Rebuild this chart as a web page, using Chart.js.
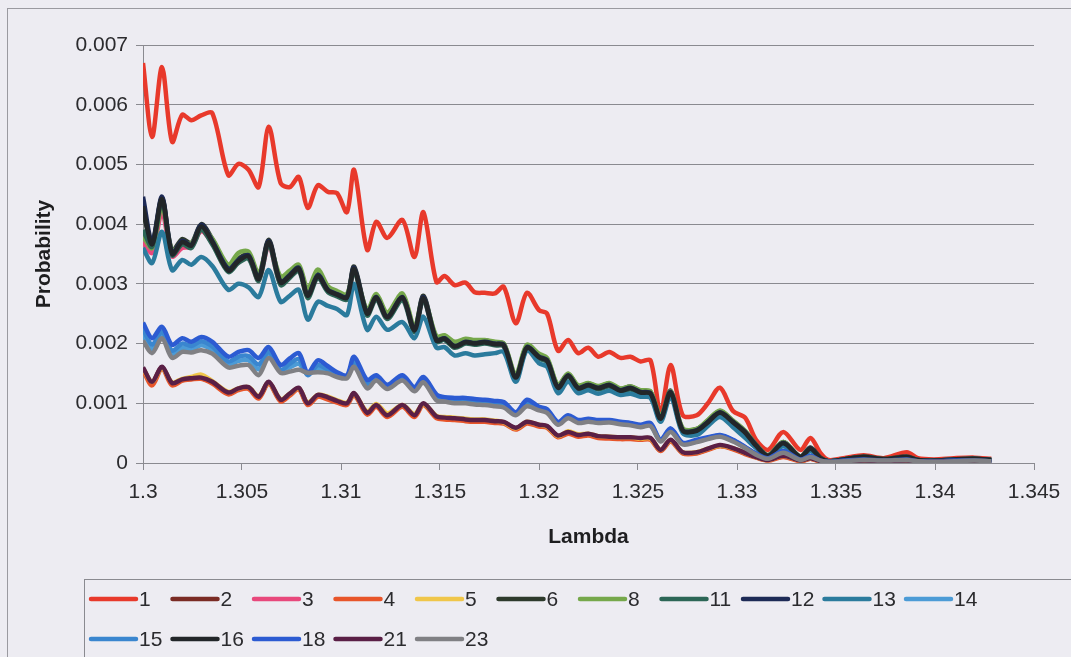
<!DOCTYPE html>
<html>
<head>
<meta charset="utf-8">
<script src="https://cdn.jsdelivr.net/npm/chart.js@4/dist/chart.umd.min.js"></script>
<style>
  html, body { margin: 0; padding: 0; background: #edecf2; }
  canvas { display: block; }
</style>
</head>
<body>
<canvas id="chart" width="1071" height="657"></canvas>
<script>
// Wavelength samples shared by every series
const lambda = [1.3, 1.30046, 1.30096, 1.30147, 1.30198, 1.30244, 1.30294, 1.3035, 1.30431, 1.30482,
  1.30533, 1.30584, 1.30635, 1.30695, 1.30741, 1.30787, 1.30832, 1.30883, 1.30934, 1.3098,
  1.3103, 1.31066, 1.31132, 1.31178, 1.31234, 1.3131, 1.31371, 1.31416, 1.31482, 1.31523,
  1.31574, 1.31629, 1.31675, 1.31726, 1.31777, 1.31822, 1.31883, 1.31939, 1.32, 1.32041,
  1.32096, 1.32147, 1.32198, 1.32249, 1.32299, 1.32355, 1.32411, 1.32462, 1.32513, 1.32563,
  1.32614, 1.32665, 1.32726, 1.32797, 1.32853, 1.32914, 1.3298, 1.33041, 1.33096, 1.33157,
  1.33234, 1.3332, 1.33371, 1.33421, 1.33462, 1.33538, 1.3364, 1.33741, 1.33858, 1.33914,
  1.33995, 1.34096, 1.34198, 1.34284];

const seriesNames = ['1', '2', '3', '4', '5', '6', '8', '11', '12', '13', '14', '15', '16', '18', '21', '23'];
const seriesColors = ['#e8392b', '#7a2b24', '#e8487c', '#e8552a', '#f0c64a', '#2e3a2c', '#76a84b', '#2c6656',
  '#1d2a56', '#2b7b9d', '#4c9bd6', '#3a86cf', '#222629', '#2c5bd2', '#5a1f46', '#808084'];

const p1 = [0.0067, 0.00546, 0.00663, 0.00538, 0.00583, 0.00574, 0.00582, 0.00586, 0.00482, 0.00501,
  0.00491, 0.00462, 0.00563, 0.00469, 0.00462, 0.00479, 0.00427, 0.00465, 0.00454, 0.00452,
  0.0042, 0.00491, 0.00357, 0.00404, 0.00377, 0.00407, 0.00345, 0.0042, 0.00303, 0.00313,
  0.00298, 0.00302, 0.00286, 0.00285, 0.00284, 0.00295, 0.00234, 0.00285, 0.00256, 0.0025,
  0.00188, 0.00206, 0.00184, 0.00193, 0.00178, 0.00186, 0.00176, 0.00178, 0.0017, 0.00172,
  0.00084, 0.00164, 0.0008, 0.0008, 0.001, 0.00126, 0.00087, 0.00076, 0.00039, 0.00022,
  0.00052, 0.00022, 0.00042, 0.00017, 0.00005, 0.00008, 0.00013, 0.00008, 0.00018, 0.00008,
  0.00006, 0.00008, 0.00009, 0.00007];

const p2 = [0.00158, 0.00135, 0.0016, 0.00133, 0.00139, 0.00141, 0.00142, 0.00135, 0.00117, 0.00124,
  0.00126, 0.0011, 0.00135, 0.00105, 0.00115, 0.00125, 0.00099, 0.00113, 0.00109, 0.00103,
  0.00099, 0.00116, 0.00083, 0.00096, 0.00079, 0.00096, 0.00079, 0.00099, 0.00077, 0.00075,
  0.00074, 0.00072, 0.00071, 0.00071, 0.00069, 0.00068, 0.00058, 0.00068, 0.00063, 0.00061,
  0.00045, 0.00051, 0.00046, 0.00048, 0.00044, 0.00043, 0.00042, 0.00042, 0.00041, 0.00041,
  0.00021, 0.00038, 0.00017, 0.00017, 0.00023, 0.00029, 0.00024, 0.00016, 0.0001, 0.00005,
  0.00011, 0.00004, 0.00007, 0.00003, 0.00001, 0.00002, 0.00004, 0.00003, 0.00004, 0.00002,
  0.00002, 0.00002, 0.00003, 0.00002];

const p3 = [0.0037, 0.00352, 0.0042, 0.00346, 0.0036, 0.00362, 0.00388, 0.00368, 0.00322, 0.00336,
  0.00344, 0.00306, 0.00364, 0.003, 0.00312, 0.00324, 0.00279, 0.00312, 0.00288, 0.00281,
  0.00276, 0.00322, 0.0025, 0.00276, 0.00244, 0.00276, 0.00222, 0.00274, 0.00205, 0.00208,
  0.00196, 0.00203, 0.002, 0.00202, 0.00199, 0.00197, 0.00144, 0.00193, 0.00177, 0.00171,
  0.00126, 0.00146, 0.00125, 0.0013, 0.00125, 0.0013, 0.00121, 0.00125, 0.00118, 0.00116,
  0.00074, 0.00118, 0.00054, 0.00054, 0.00068, 0.00084, 0.00068, 0.00051, 0.0003, 0.00012,
  0.00033, 0.0001, 0.00024, 0.00008, 0.00003, 0.00006, 0.0001, 0.00006, 0.0001, 0.00005,
  0.00004, 0.00006, 0.00007, 0.00005];

const p4 = [0.00155, 0.0013, 0.00158, 0.0013, 0.00138, 0.0014, 0.00141, 0.00133, 0.00115, 0.00122,
  0.00124, 0.00108, 0.00133, 0.00103, 0.00113, 0.00123, 0.00097, 0.00111, 0.00106, 0.00101,
  0.00097, 0.00114, 0.00081, 0.00094, 0.00077, 0.00094, 0.00077, 0.00097, 0.00075, 0.00073,
  0.00072, 0.0007, 0.00069, 0.00069, 0.00067, 0.00066, 0.00056, 0.00066, 0.00061, 0.00059,
  0.00043, 0.00049, 0.00044, 0.00046, 0.00042, 0.00041, 0.0004, 0.0004, 0.00039, 0.00039,
  0.0002, 0.00036, 0.00016, 0.00016, 0.00022, 0.00028, 0.00023, 0.00015, 0.00009, 0.00004,
  0.0001, 0.00003, 0.00007, 0.00002, 0.00001, 0.00002, 0.00003, 0.00002, 0.00003, 0.00002,
  0.00001, 0.00002, 0.00002, 0.00002];

const p5 = [0.00158, 0.00136, 0.00159, 0.00135, 0.00141, 0.00144, 0.00148, 0.00137, 0.00119, 0.00125,
  0.00127, 0.00112, 0.00135, 0.00107, 0.00116, 0.00125, 0.00101, 0.00114, 0.00111, 0.00105,
  0.00101, 0.00116, 0.00086, 0.00099, 0.00083, 0.00097, 0.00082, 0.00099, 0.00079, 0.00077,
  0.00076, 0.00074, 0.00073, 0.00073, 0.00071, 0.00068, 0.00058, 0.00069, 0.00064, 0.00061,
  0.00045, 0.00053, 0.00048, 0.00049, 0.00045, 0.00044, 0.00043, 0.00043, 0.00041, 0.00041,
  0.00022, 0.00038, 0.00018, 0.00018, 0.00024, 0.00029, 0.00025, 0.00017, 0.0001, 0.00005,
  0.00012, 0.00004, 0.00008, 0.00003, 0.00001, 0.00002, 0.00004, 0.00003, 0.00004, 0.00002,
  0.00002, 0.00002, 0.00003, 0.00002];

const p6 = [0.0042, 0.00368, 0.00444, 0.00355, 0.00375, 0.00368, 0.004, 0.00375, 0.00327, 0.00342,
  0.0035, 0.00312, 0.00374, 0.00305, 0.00317, 0.00329, 0.00283, 0.00317, 0.00292, 0.00285,
  0.0028, 0.00329, 0.00253, 0.0028, 0.00247, 0.0028, 0.00225, 0.0028, 0.00208, 0.00211,
  0.00198, 0.00205, 0.00203, 0.00205, 0.00202, 0.002, 0.00146, 0.00196, 0.0018, 0.00174,
  0.00129, 0.00149, 0.00128, 0.00133, 0.00128, 0.00133, 0.00124, 0.00128, 0.00121, 0.00119,
  0.00077, 0.00121, 0.00057, 0.00057, 0.00071, 0.00087, 0.0007, 0.00053, 0.00031, 0.00013,
  0.00035, 0.00011, 0.00026, 0.00009, 0.00003, 0.00006, 0.00011, 0.00007, 0.00011, 0.00005,
  0.00004, 0.00006, 0.00007, 0.00005];

const p8 = [0.0038, 0.0036, 0.0043, 0.00356, 0.00368, 0.00368, 0.00393, 0.00376, 0.00332, 0.00352,
  0.00354, 0.00318, 0.00366, 0.00312, 0.00322, 0.00332, 0.00292, 0.00324, 0.00296, 0.00288,
  0.00283, 0.00322, 0.00256, 0.00283, 0.00252, 0.00284, 0.00228, 0.00276, 0.00212, 0.00214,
  0.00203, 0.00208, 0.00206, 0.00206, 0.00203, 0.002, 0.00149, 0.00198, 0.00183, 0.00176,
  0.00131, 0.0015, 0.0013, 0.00134, 0.00129, 0.00134, 0.00125, 0.00128, 0.00122, 0.0012,
  0.00078, 0.0012, 0.00058, 0.00057, 0.00072, 0.00088, 0.00071, 0.00054, 0.00031, 0.00013,
  0.00035, 0.00011, 0.00025, 0.00008, 0.00003, 0.00006, 0.0001, 0.00006, 0.0001, 0.00005,
  0.00004, 0.00006, 0.00007, 0.00005];

const p11 = [0.0039, 0.00362, 0.00438, 0.00348, 0.00366, 0.0036, 0.0039, 0.00366, 0.0032, 0.00335,
  0.00342, 0.00305, 0.00366, 0.00298, 0.0031, 0.00322, 0.00276, 0.0031, 0.00286, 0.00279,
  0.00274, 0.00322, 0.00247, 0.00274, 0.00241, 0.00273, 0.00219, 0.00273, 0.00203, 0.00206,
  0.00193, 0.002, 0.00198, 0.002, 0.00197, 0.00195, 0.00141, 0.00191, 0.00175, 0.00169,
  0.00124, 0.00144, 0.00123, 0.00128, 0.00123, 0.00128, 0.00119, 0.00123, 0.00116, 0.00114,
  0.00072, 0.00116, 0.00053, 0.00053, 0.00067, 0.00083, 0.00067, 0.0005, 0.00029, 0.00011,
  0.00032, 0.0001, 0.00023, 0.00007, 0.00003, 0.00005, 0.00009, 0.00006, 0.00009, 0.00004,
  0.00004, 0.00005, 0.00006, 0.00005];

const p12 = [0.00446, 0.0037, 0.00446, 0.00352, 0.00372, 0.00365, 0.00399, 0.00372, 0.00325, 0.0034,
  0.00348, 0.0031, 0.00372, 0.00303, 0.00315, 0.00327, 0.00281, 0.00315, 0.0029, 0.00283,
  0.00278, 0.00327, 0.00251, 0.00278, 0.00245, 0.00278, 0.00223, 0.00278, 0.00206, 0.00209,
  0.00196, 0.00203, 0.00201, 0.00203, 0.002, 0.00198, 0.00144, 0.00194, 0.00178, 0.00172,
  0.00127, 0.00147, 0.00126, 0.00131, 0.00126, 0.00131, 0.00122, 0.00126, 0.00119, 0.00117,
  0.00075, 0.00119, 0.00055, 0.00055, 0.00069, 0.00085, 0.00069, 0.00052, 0.0003, 0.00012,
  0.00034, 0.0001, 0.00025, 0.00008, 0.00003, 0.00006, 0.0001, 0.00006, 0.0001, 0.00005,
  0.00004, 0.00006, 0.00007, 0.00005];

const p13 = [0.0036, 0.00335, 0.00387, 0.00323, 0.0034, 0.00332, 0.00345, 0.0033, 0.0029, 0.003,
  0.00294, 0.00278, 0.00323, 0.0027, 0.0028, 0.0029, 0.0024, 0.0027, 0.00263, 0.00258,
  0.00248, 0.003, 0.00223, 0.00245, 0.00223, 0.00236, 0.00209, 0.00245, 0.00193, 0.00194,
  0.0018, 0.00184, 0.0018, 0.00182, 0.00184, 0.00186, 0.00136, 0.00189, 0.00167, 0.00161,
  0.00117, 0.00136, 0.00117, 0.00122, 0.00116, 0.00121, 0.00114, 0.00116, 0.00111, 0.00109,
  0.00069, 0.00111, 0.0005, 0.00047, 0.00062, 0.00077, 0.0006, 0.00042, 0.00025, 0.0001,
  0.00028, 0.00008, 0.0002, 0.00006, 0.00003, 0.00005, 0.00008, 0.00005, 0.00008, 0.00004,
  0.00004, 0.00005, 0.00006, 0.00004];

const p14 = [0.00215, 0.0019, 0.00214, 0.00182, 0.00193, 0.0019, 0.00197, 0.00189, 0.00165, 0.00171,
  0.00172, 0.00157, 0.0018, 0.00155, 0.0016, 0.00166, 0.00149, 0.00158, 0.00153, 0.00146,
  0.00143, 0.00166, 0.00129, 0.0014, 0.00126, 0.0014, 0.00122, 0.00137, 0.00108, 0.00105,
  0.00102, 0.00102, 0.001, 0.00099, 0.00097, 0.00095, 0.00082, 0.00098, 0.0009, 0.00086,
  0.00066, 0.00077, 0.00069, 0.0007, 0.00068, 0.00069, 0.00066, 0.00064, 0.00061, 0.00063,
  0.00037, 0.00054, 0.00032, 0.00036, 0.00041, 0.00045, 0.00037, 0.00026, 0.00015, 0.00007,
  0.00018, 0.00005, 0.0001, 0.00004, 0.00002, 0.00003, 0.00005, 0.00004, 0.00005, 0.00003,
  0.00002, 0.00003, 0.00004, 0.00003];

const p15 = [0.00225, 0.00198, 0.0022, 0.00188, 0.002, 0.00196, 0.00204, 0.00195, 0.0017, 0.00178,
  0.00179, 0.00165, 0.00186, 0.00156, 0.00166, 0.00174, 0.00147, 0.00164, 0.00156, 0.00148,
  0.00144, 0.0017, 0.00133, 0.00142, 0.00127, 0.00143, 0.00124, 0.0014, 0.00111, 0.00107,
  0.00105, 0.00105, 0.00103, 0.00102, 0.001, 0.00098, 0.00083, 0.00101, 0.00091, 0.00087,
  0.00067, 0.00078, 0.0007, 0.00072, 0.0007, 0.0007, 0.00067, 0.00065, 0.00062, 0.00065,
  0.00038, 0.00056, 0.00033, 0.00037, 0.00042, 0.00046, 0.00038, 0.00026, 0.00015, 0.00008,
  0.00019, 0.00006, 0.00011, 0.00004, 0.00002, 0.00004, 0.00006, 0.00004, 0.00006, 0.00003,
  0.00003, 0.00004, 0.00004, 0.00003];

const p16 = [0.0043, 0.00366, 0.00442, 0.0035, 0.0037, 0.00364, 0.00396, 0.0037, 0.00322, 0.00338,
  0.00346, 0.00308, 0.0037, 0.00302, 0.00313, 0.00325, 0.0028, 0.00313, 0.00289, 0.00282,
  0.00277, 0.00325, 0.0025, 0.00277, 0.00244, 0.00277, 0.00222, 0.00276, 0.00205, 0.00208,
  0.00195, 0.00202, 0.002, 0.00202, 0.00199, 0.00197, 0.00143, 0.00193, 0.00177, 0.00171,
  0.00126, 0.00146, 0.00125, 0.0013, 0.00125, 0.0013, 0.00121, 0.00125, 0.00118, 0.00116,
  0.00074, 0.00118, 0.00054, 0.00054, 0.00068, 0.00084, 0.00068, 0.00051, 0.00029, 0.00012,
  0.00033, 0.0001, 0.00024, 0.00008, 0.00003, 0.00006, 0.0001, 0.00006, 0.0001, 0.00005,
  0.00004, 0.00006, 0.00007, 0.00005];

const p18 = [0.00235, 0.00209, 0.00228, 0.00198, 0.00209, 0.00203, 0.00211, 0.00203, 0.00178, 0.00186,
  0.00189, 0.00176, 0.00194, 0.00164, 0.00175, 0.00184, 0.00151, 0.00172, 0.00162, 0.00152,
  0.00147, 0.00178, 0.00139, 0.00147, 0.00131, 0.00147, 0.00127, 0.00144, 0.00115, 0.0011,
  0.00109, 0.00109, 0.00107, 0.00106, 0.00104, 0.00102, 0.00085, 0.00106, 0.00094, 0.0009,
  0.00069, 0.0008, 0.00072, 0.00074, 0.00072, 0.00072, 0.00069, 0.00067, 0.00064, 0.00067,
  0.00039, 0.00058, 0.00034, 0.00039, 0.00043, 0.00047, 0.00039, 0.00027, 0.00016, 0.00008,
  0.0002, 0.00006, 0.00012, 0.00004, 0.00002, 0.00004, 0.00006, 0.00004, 0.00006, 0.00003,
  0.00003, 0.00004, 0.00004, 0.00003];

const p21 = [0.0016, 0.00136, 0.00161, 0.00134, 0.0014, 0.00142, 0.00143, 0.00136, 0.00118, 0.00125,
  0.00127, 0.00111, 0.00136, 0.00106, 0.00116, 0.00126, 0.001, 0.00114, 0.0011, 0.00104,
  0.001, 0.00117, 0.00084, 0.00097, 0.0008, 0.00097, 0.0008, 0.001, 0.00078, 0.00076,
  0.00075, 0.00073, 0.00072, 0.00072, 0.0007, 0.00069, 0.00059, 0.00069, 0.00064, 0.00062,
  0.00046, 0.00052, 0.00047, 0.00049, 0.00045, 0.00044, 0.00043, 0.00043, 0.00042, 0.00042,
  0.00022, 0.00039, 0.00018, 0.00018, 0.00024, 0.0003, 0.00025, 0.00017, 0.0001, 0.00005,
  0.00012, 0.00004, 0.00008, 0.00003, 0.00001, 0.00002, 0.00004, 0.00003, 0.00004, 0.00002,
  0.00002, 0.00002, 0.00003, 0.00002];

const p23 = [0.00205, 0.00184, 0.00209, 0.00176, 0.00186, 0.00185, 0.00189, 0.00183, 0.0016, 0.00163,
  0.00164, 0.00147, 0.00176, 0.00151, 0.00153, 0.00156, 0.00151, 0.00152, 0.0015, 0.00144,
  0.00142, 0.00161, 0.00125, 0.00138, 0.00124, 0.00138, 0.0012, 0.00135, 0.00105, 0.00103,
  0.001, 0.001, 0.00098, 0.00097, 0.00095, 0.00093, 0.0008, 0.00095, 0.00088, 0.00084,
  0.00064, 0.00075, 0.00067, 0.00069, 0.00067, 0.00068, 0.00065, 0.00063, 0.0006, 0.00062,
  0.00036, 0.00052, 0.00031, 0.00035, 0.0004, 0.00044, 0.00036, 0.00025, 0.00014, 0.00007,
  0.00017, 0.00005, 0.0001, 0.00004, 0.00002, 0.00003, 0.00005, 0.00004, 0.00005, 0.00003,
  0.00002, 0.00003, 0.00004, 0.00003];

const seriesValues = [p1, p2, p3, p4, p5, p6, p8, p11, p12, p13, p14, p15, p16, p18, p21, p23];

// Axis ticks
const xTickValues = [1.3, 1.305, 1.31, 1.315, 1.32, 1.325, 1.33, 1.335, 1.34, 1.345];
const xTickLabels = ['1.3', '1.305', '1.31', '1.315', '1.32', '1.325', '1.33', '1.335', '1.34', '1.345'];
const yTickValues = [0, 0.001, 0.002, 0.003, 0.004, 0.005, 0.006, 0.007];
const yTickLabels = ['0', '0.001', '0.002', '0.003', '0.004', '0.005', '0.006', '0.007'];

const FONT = '"Liberation Sans", Arial, sans-serif';
const AXIS_GREY = '#8a8a90';

const datasets = seriesNames.map((name, i) => ({
  label: name,
  data: lambda.map((x, k) => ({ x: x, y: seriesValues[i][k] })),
  borderColor: seriesColors[i],
  backgroundColor: seriesColors[i],
  borderWidth: 4.5,
  pointRadius: 0,
  tension: 0.3,
  fill: false,
  order: -i            // later series painted over earlier ones
}));

// Outer frame plus a two-row legend laid out on a fixed column grid
const frameAndLegend = {
  id: 'frameAndLegend',
  afterDraw(chart) {
    const ctx = chart.ctx;
    ctx.save();
    ctx.strokeStyle = '#9a9aa0';
    ctx.lineWidth = 1;
    ctx.strokeRect(7.5, 8.5, 1100, 700);
    ctx.strokeStyle = '#8a8a90';
    ctx.strokeRect(84.5, 579.5, 1100, 120);

    const perRow = 11;
    chart.data.datasets.forEach((ds, i) => {
      const col = i % perRow;
      const row = Math.floor(i / perRow);
      const x0 = 91 + col * 81.5;
      const y = 599 + row * 40;
      ctx.strokeStyle = ds.borderColor;
      ctx.lineWidth = 4.5;
      ctx.lineCap = 'round';
      ctx.beginPath();
      ctx.moveTo(x0, y);
      ctx.lineTo(x0 + 45, y);
      ctx.stroke();
      ctx.fillStyle = '#2b2b2e';
      ctx.font = '21px ' + FONT;
      ctx.textBaseline = 'middle';
      ctx.textAlign = 'left';
      ctx.fillText(ds.label, x0 + 48, y + 1);
    });
    ctx.restore();
  }
};

new Chart(document.getElementById('chart'), {
  type: 'line',
  data: { datasets },
  plugins: [frameAndLegend],
  options: {
    responsive: false,
    animation: false,
    layout: { padding: { left: 0, top: 45, right: 37, bottom: 104 } },
    plugins: {
      legend: { display: false },
      tooltip: { enabled: false }
    },
    scales: {
      x: {
        type: 'linear',
        min: 1.3,
        max: 1.345,
        afterBuildTicks: (s) => { s.ticks = xTickValues.map(v => ({ value: v })); },
        afterFit: (s) => { s.height = 90; },
        ticks: {
          callback: (v, i) => xTickLabels[i],
          color: '#2b2b2e',
          font: { family: FONT, size: 21 },
          padding: 10,
          maxRotation: 0,
          autoSkip: false
        },
        grid: { drawOnChartArea: false, drawTicks: true, tickLength: 7, color: AXIS_GREY },
        border: { display: true, color: AXIS_GREY, width: 1 },
        title: {
          display: true,
          text: 'Lambda',
          color: '#1e1e20',
          font: { family: FONT, size: 21, weight: 'bold' },
          padding: { top: 0, bottom: 3 }
        }
      },
      y: {
        type: 'linear',
        min: 0,
        max: 0.007,
        afterBuildTicks: (s) => { s.ticks = yTickValues.map(v => ({ value: v })); },
        afterFit: (s) => { s.width = 143; },
        ticks: {
          callback: (v, i) => yTickLabels[i],
          color: '#2b2b2e',
          font: { family: FONT, size: 21 },
          padding: 8
        },
        grid: { color: AXIS_GREY, lineWidth: 1, drawTicks: true, tickLength: 7 },
        border: { display: true, color: AXIS_GREY, width: 1 },
        title: {
          display: true,
          text: 'Probability',
          color: '#1e1e20',
          font: { family: FONT, size: 21, weight: 'bold' },
          padding: { top: 32, bottom: 0 }
        }
      }
    }
  }
});
</script>
</body>
</html>
